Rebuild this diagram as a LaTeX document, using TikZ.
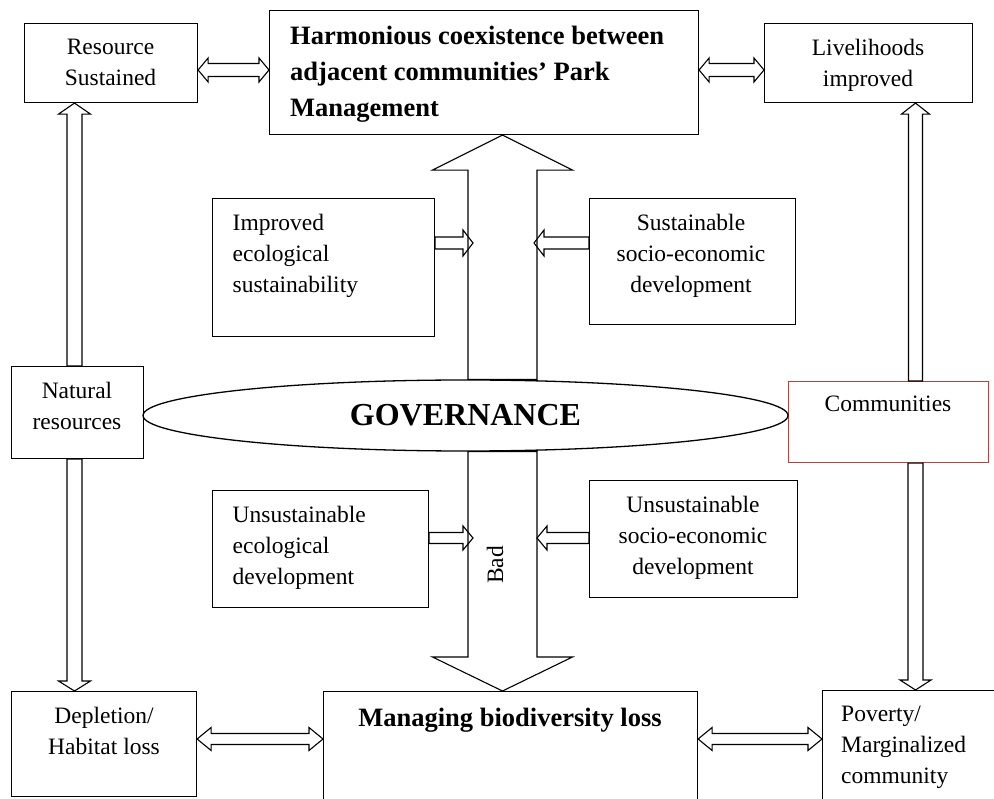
\documentclass[tikz,border=0pt]{standalone}
\usepackage{fontspec}
\setmainfont{Liberation Serif}
\usetikzlibrary{calc,shapes.geometric}
\definecolor{comred}{RGB}{178,68,66}
\tikzset{
  box/.style={draw, line width=1.1pt, inner sep=0pt, anchor=north west},
  txt/.style={inner sep=0pt, font=\fontsize{23.5}{31}\selectfont},
  btxt/.style={inner sep=0pt, font=\fontsize{26.5}{36}\selectfont\bfseries},
  arw/.style={draw, line width=1.1pt, line join=miter},
}
% single hollow block arrow from #1 to tip #2 (axis aligned)
\newcommand\blockarrow[5]{%
  \draw[arw] let \p1=(#1), \p2=(#2), \n1={sign(\x2-\x1)}, \n2={sign(\y2-\y1)} in
   ({\x1-(#3)*(\n2)},{\y1+(#3)*(\n1)}) --
   ({\x2-(#5)*(\n1)-(#3)*(\n2)},{\y2-(#5)*(\n2)+(#3)*(\n1)}) --
   ({\x2-(#5)*(\n1)-(#4)*(\n2)},{\y2-(#5)*(\n2)+(#4)*(\n1)}) --
   (\x2,\y2) --
   ({\x2-(#5)*(\n1)+(#4)*(\n2)},{\y2-(#5)*(\n2)-(#4)*(\n1)}) --
   ({\x2-(#5)*(\n1)+(#3)*(\n2)},{\y2-(#5)*(\n2)-(#3)*(\n1)}) --
   ({\x1+(#3)*(\n2)},{\y1-(#3)*(\n1)}) -- cycle;}
% horizontal hollow double arrow between #1 and #2
\newcommand\dblarrow[5]{%
  \draw[arw] let \p1=(#1), \p2=(#2) in
   (\x1,\y1) -- ({\x1+#5},{\y1+#4}) -- ({\x1+#5},{\y1+#3}) -- ({\x2-#5},{\y1+#3}) --
   ({\x2-#5},{\y1+#4}) -- (\x2,\y1) -- ({\x2-#5},{\y1-#4}) -- ({\x2-#5},{\y1-#3}) --
   ({\x1+#5},{\y1-#3}) -- ({\x1+#5},{\y1-#4}) -- cycle;}
\begin{document}
\begin{tikzpicture}[x=1pt,y=-1pt]
\useasboundingbox (0,0) rectangle (994,799);
\clip (0,0) rectangle (994,799);
% boxes
\node[box, minimum width=173pt, minimum height=79pt] (rs) at (24,23) {};
\node[box, minimum width=429pt, minimum height=124pt] (hc) at (269,10) {};
\node[box, minimum width=208pt, minimum height=79pt] (lh) at (764,23) {};
\node[box, minimum width=222pt, minimum height=138pt] (imp) at (212,198) {};
\node[box, minimum width=206pt, minimum height=126pt] (sus) at (589,198) {};
\node[box, minimum width=132pt, minimum height=92pt] (nat) at (11,366) {};
\node[box, draw=comred, minimum width=200pt, minimum height=81pt] (com) at (788,381) {};
\node[box, minimum width=216pt, minimum height=117pt] (ue) at (212,490) {};
\node[box, minimum width=208pt, minimum height=117pt] (us) at (589,480) {};
\node[box, minimum width=185pt, minimum height=105pt] (dep) at (11,691) {};
\node[box, minimum width=374pt, minimum height=130pt] (mb) at (323,691) {};
\node[box, minimum width=200pt, minimum height=130pt] (pov) at (822,690) {};
\node[draw, ellipse, line width=1.3pt, minimum width=645pt, minimum height=71pt, inner sep=0pt,
      font=\fontsize{32}{36}\selectfont\bfseries] (gov) at (465.5,415.5) {GOVERNANCE};
% texts
\node[txt, anchor=north, align=center] (rsT) at (110.5,39) {Resource\\Sustained};
\node[btxt, anchor=north west, align=left] (hcT) at (290,26) {Harmonious coexistence between\\adjacent communities’ Park\\Management};
\node[txt, anchor=north, align=center] (lhT) at (868,39) {Livelihoods\\improved};
\node[txt, anchor=north west, align=left] (impT) at (232.5,214) {Improved\\ecological\\sustainability};
\node[txt, anchor=north, align=center] (susT) at (691,214) {Sustainable\\socio-economic\\development};
\node[txt, anchor=north, align=center] (natT) at (77,382) {Natural\\resources};
\node[txt, anchor=base] (comT) at (888,412) {Communities};
\node[txt, anchor=north west, align=left] (ueT) at (232.5,506) {Unsustainable\\ecological\\development};
\node[txt, anchor=north, align=center] (usT) at (693,496) {Unsustainable\\socio-economic\\development};
\node[txt, rotate=90] (badT) at (495,565) {Bad};
\node[txt, anchor=north, align=center] (depT) at (104,707) {Depletion/\\Habitat loss};
\node[btxt, anchor=base] (mbT) at (510,726) {Managing biodiversity loss};
\node[txt, anchor=north west, align=left] (povT) at (841,706) {Poverty/\\Marginalized\\community};
% helper coordinates
\coordinate (lax) at (74.5,0);
\coordinate (rax) at (915.5,0);
\coordinate (bax) at (502.5,0);
\coordinate (s1) at (473,243);
\coordinate (s2) at (534,243);
\coordinate (s3) at (473,538);
\coordinate (s4) at (537,538);
\coordinate (ty) at (0,70);
\coordinate (by) at (0,739);
% big arrows
\blockarrow{gov.north -| bax}{hc.south -| bax}{34.5pt}{70pt}{35pt}
\blockarrow{gov.south -| bax}{mb.north -| bax}{34.5pt}{70pt}{34pt}
% vertical side arrows
\blockarrow{nat.north -| lax}{rs.south -| lax}{7.5pt}{16pt}{11pt}
\blockarrow{nat.south -| lax}{dep.north -| lax}{7.5pt}{16pt}{10pt}
\blockarrow{com.north -| rax}{lh.south -| rax}{7pt}{14pt}{11pt}
\blockarrow{com.south -| rax}{pov.north -| rax}{7.5pt}{15.5pt}{10pt}
% small arrows into big shafts
\blockarrow{imp.east |- s1}{s1}{6pt}{13pt}{10pt}
\blockarrow{sus.west |- s2}{s2}{6pt}{13pt}{10pt}
\blockarrow{ue.east |- s3}{s3}{5.5pt}{12pt}{10pt}
\blockarrow{us.west |- s4}{s4}{5.5pt}{12pt}{10pt}
% double arrows
\dblarrow{rs.east |- ty}{hc.west |- ty}{6.5pt}{12pt}{10pt}
\dblarrow{hc.east |- ty}{lh.west |- ty}{6.5pt}{12pt}{10pt}
\dblarrow{dep.east |- by}{mb.west |- by}{5.5pt}{11.5pt}{14pt}
\dblarrow{mb.east |- by}{pov.west |- by}{5.5pt}{11.5pt}{14pt}
\end{tikzpicture}
\end{document}
